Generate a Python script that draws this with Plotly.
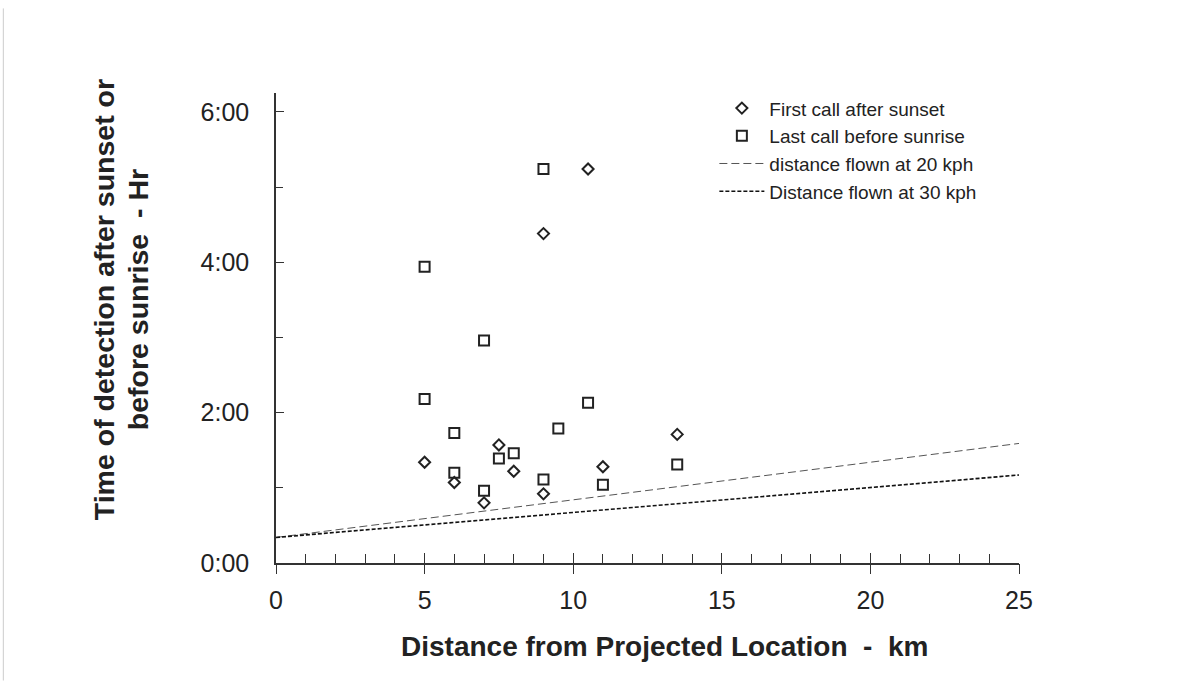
import plotly.graph_objects as go

# ---- data (distance km, time in hours) ----
first_x = [5, 6, 7, 7.5, 8, 9, 9, 10.5, 11, 13.5]
first_y = [1.34, 1.07, 0.80, 1.57, 1.22, 0.92, 4.38, 5.24, 1.28, 1.71]

last_x = [5, 5, 6, 6, 7, 7, 7.5, 8, 9, 9, 9.5, 10.5, 11, 13.5]
last_y = [3.94, 2.18, 1.73, 1.20, 2.96, 0.96, 1.39, 1.46, 5.24, 1.11, 1.79, 2.13, 1.04, 1.31]

line_x = [0, 25]
line20_y = [0.34, 1.59]
line30_y = [0.34, 1.17]

y_tickvals = [0, 2, 4, 6]
y_ticktext = ["0:00", "2:00", "4:00", "6:00"]
x_tickvals = [0, 5, 10, 15, 20, 25]

FONT = "Liberation Sans, Arial, sans-serif"
DARK = "#222222"

fig = go.Figure()
fig.add_trace(go.Scatter(
    x=first_x, y=first_y, mode="markers", name="First call after sunset",
    marker=dict(symbol="diamond-open", size=8.5, color=DARK, line=dict(width=2, color=DARK)),
))
fig.add_trace(go.Scatter(
    x=last_x, y=last_y, mode="markers", name="Last call before sunrise",
    marker=dict(symbol="square-open", size=10, color=DARK, line=dict(width=2, color=DARK)),
))
fig.add_trace(go.Scatter(
    x=line_x, y=line20_y, mode="lines", name="distance flown at 20 kph",
    line=dict(color="#555555", width=1, dash="8px,4px"),
))
fig.add_trace(go.Scatter(
    x=line_x, y=line30_y, mode="lines", name="Distance flown at 30 kph",
    line=dict(color="#111111", width=1.6, dash="4px,2px"),
))
# invisible trace on the overlay axis so crossing tick marks are drawn
fig.add_trace(go.Scatter(x=line_x, y=line20_y, xaxis="x2", mode="lines",
                         line=dict(width=0), showlegend=False, hoverinfo="skip"))

fig.update_layout(
    width=1183, height=687,
    margin=dict(l=276, r=164, t=93, b=124),
    paper_bgcolor="white", plot_bgcolor="white",
    font=dict(family=FONT, color=DARK),
    showlegend=True,
    legend=dict(
        x=0.59, y=1.008, xanchor="left", yanchor="top",
        bgcolor="rgba(0,0,0,0)", font=dict(size=19, family=FONT, color=DARK),
        itemwidth=45, tracegroupgap=0,
    ),
    xaxis=dict(
        range=[0, 25], tickvals=x_tickvals, ticks="inside", ticklen=10, tickwidth=1.2,
        tickcolor="#333", showline=True, linecolor="#333", linewidth=1.5,
        showgrid=False, zeroline=False, tickfont=dict(size=25, family=FONT, color=DARK),
        ticklabelstandoff=14,
        minor=dict(dtick=1, ticks="inside", ticklen=9, tickwidth=1, tickcolor="#333"),
    ),
    xaxis2=dict(
        range=[0, 25], overlaying="x", anchor="y", side="bottom", tickvals=x_tickvals,
        ticks="outside", ticklen=10, tickwidth=1.2, tickcolor="#333",
        showticklabels=False, showline=False, showgrid=False, zeroline=False,
    ),
    yaxis=dict(
        range=[0, 6.25], tickvals=y_tickvals, ticktext=y_ticktext, ticks="inside",
        ticklen=8, tickwidth=1.2, tickcolor="#333", showline=True, linecolor="#333",
        linewidth=1.5, showgrid=False, zeroline=False,
        tickfont=dict(size=25, family=FONT, color=DARK), ticklabelstandoff=20,
        minor=dict(tickvals=[1, 3, 5], ticks="inside", ticklen=7, tickwidth=1, tickcolor="#333"),
    ),
    annotations=[
        dict(text="<b>Distance from Projected Location  -  km</b>", xref="paper", yref="paper",
             x=0.523, y=-0.178, xanchor="center", yanchor="middle", showarrow=False,
             font=dict(size=28, family=FONT, color=DARK)),
        dict(text="<b>Time of detection after sunset or</b>", xref="paper", yref="paper",
             x=-0.2323, y=0.56, xanchor="center", yanchor="middle", showarrow=False,
             textangle=-90, font=dict(size=28.5, family=FONT, color=DARK)),
        dict(text="<b>before sunrise  - Hr</b>", xref="paper", yref="paper",
             x=-0.1865, y=0.56, xanchor="center", yanchor="middle", showarrow=False,
             textangle=-90, font=dict(size=28.5, family=FONT, color=DARK)),
    ],
    shapes=[
        dict(type="line", xref="paper", yref="paper", x0=-0.367, x1=-0.367, y0=1.18, y1=-0.25,
             line=dict(color="#cccccc", width=1)),
    ],
)

fig.write_html("out.html")
